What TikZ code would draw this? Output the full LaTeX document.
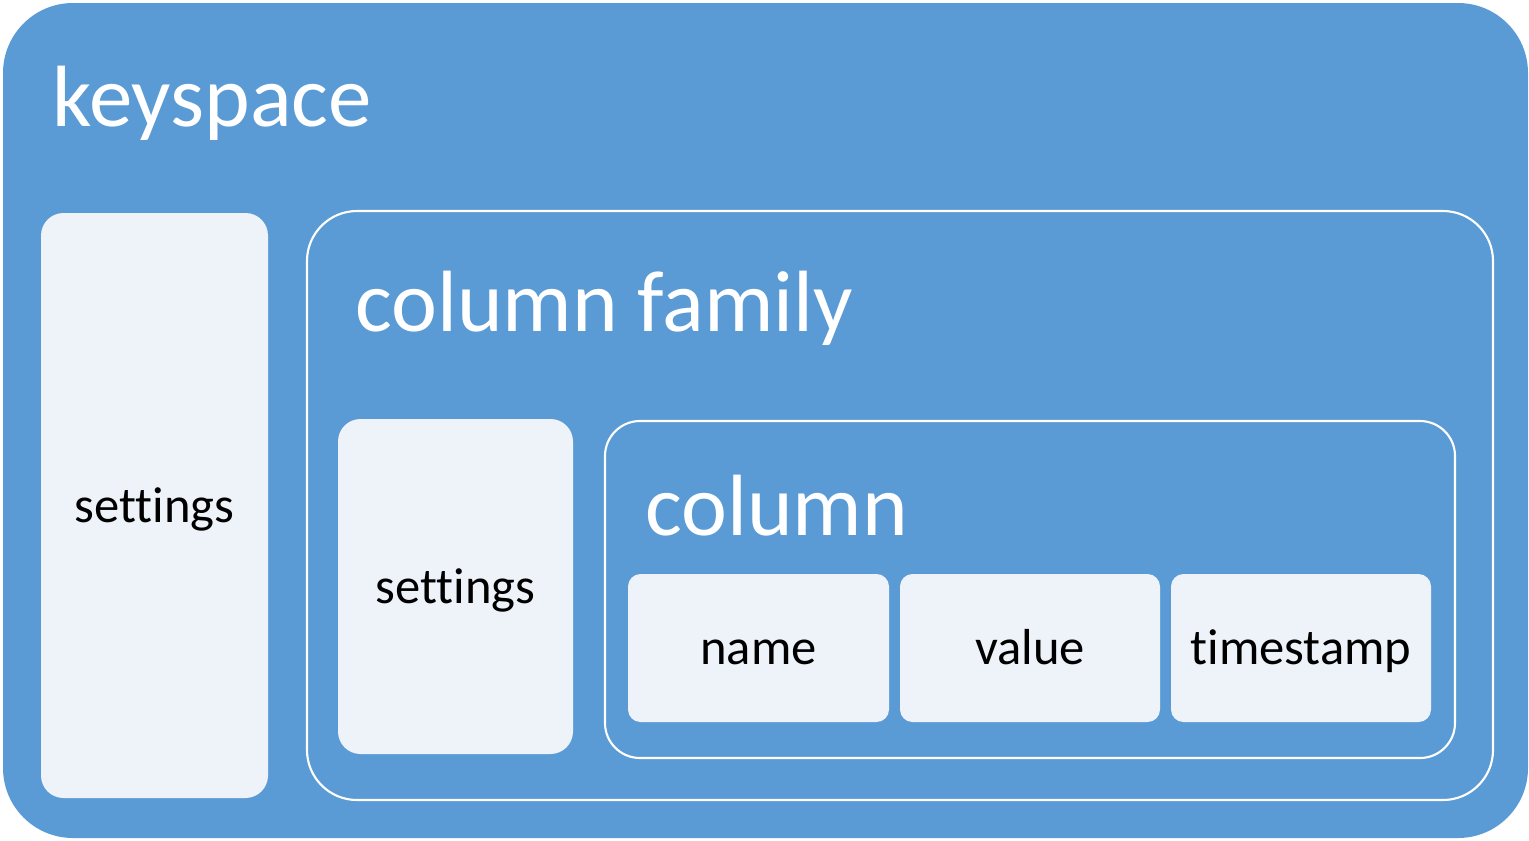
\documentclass[tikz,border=0pt]{standalone}
\usepackage{fontspec}
\setmainfont{Carlito}[Ligatures={NoCommon}]
\usepackage{xcolor}
\usetikzlibrary{positioning}
\definecolor{ksblue}{HTML}{5B9BD5}
\definecolor{boxfill}{HTML}{EEF3FA}

\tikzset{
  outerbox/.style={fill=ksblue, draw=none},
  framebox/.style={draw=white, line width=1.2pt},
  lightbox/.style={fill=boxfill, draw=none},
  title/.style={text=white, font=\fontsize{49.5}{50}\selectfont, anchor=base west, inner sep=0pt},
  label/.style={text=black, font=\fontsize{28.8}{29}\selectfont, text height=24pt, text depth=4.8pt}
}

\begin{document}
\begin{tikzpicture}[x=0.02cm, y=-0.02cm]
    \useasboundingbox (0,0) rectangle (1529,840);

    % keyspace
    \draw[outerbox, rounded corners=1.4cm] (3,3) rectangle (1528,838);
    \node[title] (keyspace) at (52,126) {keyspace};
    \draw[lightbox, rounded corners=0.45cm] (41,213) rectangle (268,798) node[midway, label] (kssettings) {settings};

    % column family
    \draw[framebox, rounded corners=1cm] (307,211) rectangle (1493,800);
    \node[title] (colfamily) at (355,331) {column family};
    \draw[lightbox, rounded corners=0.45cm] (338,419) rectangle (573,754) node[midway, label] (cfsettings) {settings};

    % column
    \draw[framebox, rounded corners=0.7cm] (605,421) rectangle (1455,758);
    \node[title] (column) at (645,535) {column};
    \draw[lightbox, rounded corners=0.25cm] (628,574) rectangle (889,722) node[midway, label] (name) {name};
    \draw[lightbox, rounded corners=0.25cm] (900,574) rectangle (1160,722) node[midway, label] (value) {value};
    \draw[lightbox, rounded corners=0.25cm] (1171,574) rectangle (1431,722) node[midway, label] (timestamp) {timestamp};
  \end{tikzpicture}
\end{document}
